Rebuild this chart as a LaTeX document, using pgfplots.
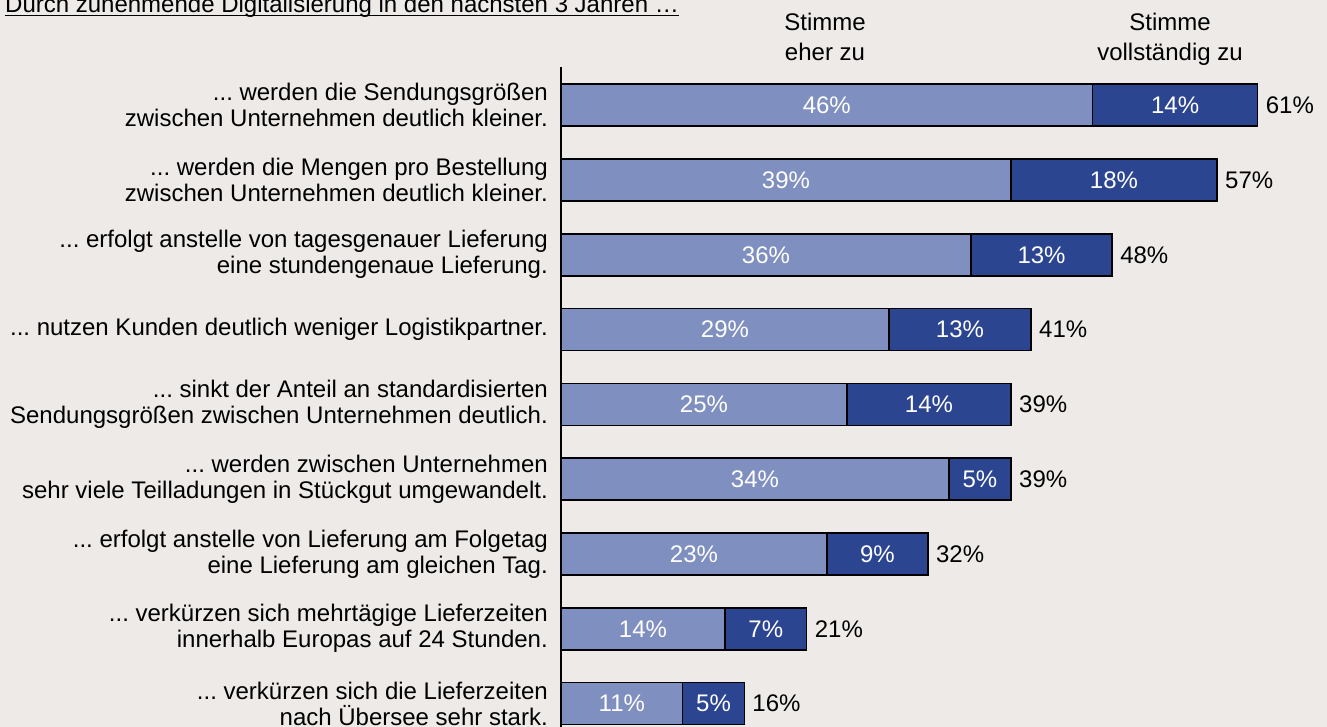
\documentclass[border=0pt]{standalone}
\usepackage{pgfplots}
\pgfplotsset{compat=1.18}
\usepackage{pgfplotstable}
\usepackage{fontspec}
\setmainfont{Liberation Sans}
\definecolor{bg}{HTML}{EDEAE8}
\definecolor{lightbar}{HTML}{7F8FBF}
\definecolor{darkbar}{HTML}{2C4591}
\newcommand{\cf}{\fontsize{24bp}{26bp}\selectfont}
\newcommand{\dd}{.{}.{}.}

\pgfplotstableread{
y a t la lb lt
1 46.03 60.32 46 14 61
2 38.96 56.80 39 18 57
3 35.50 47.71 36 13 48
4 28.40 40.69 29 13 41
5 24.76 38.96 25 14 39
6 33.59 38.96 34 5 39
7 23.03 31.77 23 9 32
8 14.20 21.27 14 7 21
9 10.54 15.87 11 5 16
}\data

\begin{document}
\begin{tikzpicture}[font=\cf]
\fill[bg] (0,0) rectangle (1327bp,727bp);
\clip (0,0) rectangle (1327bp,727bp);
\node[anchor=base west, inner sep=0pt] (t) at (5bp,714.3bp) {Durch zunehmende Digitalisierung in den nächsten 3 Jahren …};
\draw[line width=1.2bp] ([yshift=-2.6bp]t.base west) -- ([yshift=-2.6bp]t.base east);
\node[anchor=base] at (825bp,696bp) {Stimme};
\node[anchor=base] at (825bp,666bp) {eher zu};
\node[anchor=base] at (1170bp,696bp) {Stimme};
\node[anchor=base] at (1170bp,666bp) {vollständig zu};
\begin{axis}[
  at={(561bp,660bp)}, anchor=north west,
  scale only axis, width=762.3bp, height=666.5bp,
  xmin=0, xmax=66, ymin=0.49, ymax=9.4, y dir=reverse,
  axis x line=none, axis y line*=left,
  y axis line style={line width=1.5bp, -},
  ytick={1,2,3,4,5,6,7,8,9}, major tick length=0pt,
  yticklabels={
    {\dd\ werden die Sendungsgrößen\\zwischen Unternehmen deutlich kleiner.},
    {\dd\ werden die Mengen pro Bestellung\\zwischen Unternehmen deutlich kleiner.},
    {\dd\ erfolgt anstelle von tagesgenauer Lieferung\\eine stundengenaue Lieferung.},
    {\dd\ nutzen Kunden deutlich weniger Logistikpartner.},
    {\dd\ sinkt der Anteil an standardisierten\\Sendungsgrößen zwischen Unternehmen deutlich.},
    {\dd\ werden zwischen Unternehmen\\sehr viele Teilladungen in Stückgut umgewandelt.},
    {\dd\ erfolgt anstelle von Lieferung am Folgetag\\eine Lieferung am gleichen Tag.},
    {\dd\ verkürzen sich mehrtägige Lieferzeiten\\innerhalb Europas auf 24 Stunden.},
    {\dd\ verkürzen sich die Lieferzeiten\\nach Übersee sehr stark.}},
  yticklabel style={align=right, font=\cf, inner sep=0pt, xshift=-13bp},
  clip=false,
]
\addplot[xbar, bar width=42bp, bar shift=0pt, fill=darkbar, draw=black, line width=1.5bp] table[x=t, y=y]{\data};
\addplot[xbar, bar width=42bp, bar shift=0pt, fill=lightbar, draw=black, line width=1.5bp] table[x=a, y=y]{\data};
\addplot[draw=none, mark=none, point meta=explicit symbolic,
  nodes near coords={\pgfplotspointmeta\%},
  nodes near coords style={text=white, anchor=center, font=\cf}]
  table[x expr=\thisrow{a}/2, y=y, meta=la]{\data};
\addplot[draw=none, mark=none, point meta=explicit symbolic,
  nodes near coords={\pgfplotspointmeta\%},
  nodes near coords style={text=white, anchor=center, font=\cf}]
  table[x expr=(\thisrow{a}+\thisrow{t})/2, y=y, meta=lb]{\data};
\addplot[draw=none, mark=none, point meta=explicit symbolic,
  nodes near coords={\pgfplotspointmeta\%},
  nodes near coords style={text=black, anchor=west, font=\cf, inner sep=0pt, xshift=8bp}]
  table[x=t, y=y, meta=lt]{\data};
\end{axis}
\end{tikzpicture}
\end{document}
